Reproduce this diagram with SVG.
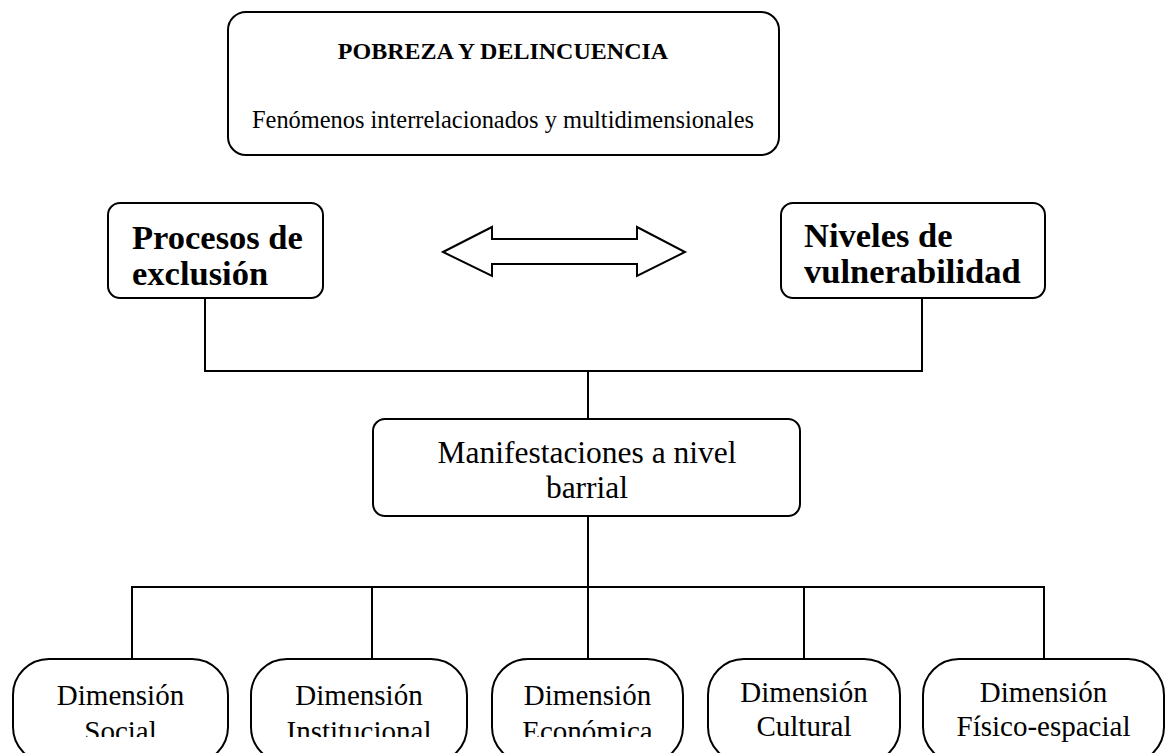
<svg xmlns="http://www.w3.org/2000/svg" width="1166" height="753" viewBox="0 0 1166 753">
<style>
.box{fill:#fff;stroke:#000;stroke-width:2}
.ln{fill:none;stroke:#000;stroke-width:2}
.t{font-family:"Liberation Serif","Times New Roman",serif;fill:#000}
.reg{font-size:29px}
.bold{font-weight:bold}
.bb{font-size:34.5px;font-weight:bold}
</style>
<defs>
<clipPath id="clipLow"><rect x="0" y="600" width="1166" height="137"/></clipPath>
</defs>
<rect width="1166" height="753" fill="#fff"/>
<g id="connectors">
<polyline class="ln" points="205,298 205,371 922,371 922,298"/>
<line class="ln" x1="588" y1="371" x2="588" y2="419"/>
<line class="ln" x1="588" y1="516" x2="588" y2="587"/>
<line class="ln" x1="131" y1="587" x2="1045" y2="587"/>
<line class="ln" x1="132" y1="587" x2="132" y2="659"/>
<line class="ln" x1="372" y1="587" x2="372" y2="659"/>
<line class="ln" x1="588" y1="587" x2="588" y2="659"/>
<line class="ln" x1="804" y1="587" x2="804" y2="659"/>
<line class="ln" x1="1044" y1="587" x2="1044" y2="659"/>
<polygon id="double-arrow" class="box" points="443,252 492,227 492,239 637,239 637,227 685,252 637,276 637,264 492,264 492,276"/>
</g>
<g id="top">
<rect class="box" x="228" y="12" width="551" height="143" rx="18"/>
<text class="t bold" x="503" y="59" font-size="24" text-anchor="middle">POBREZA Y DELINCUENCIA</text>
<text class="t" x="503" y="128" font-size="24.4" text-anchor="middle">Fenómenos interrelacionados y multidimensionales</text>
</g>
<g id="procesos">
<rect class="box" x="108" y="203" width="215" height="95" rx="12"/>
<text class="t bb" x="132" y="249">Procesos de</text>
<text class="t bb" x="132" y="285">exclusión</text>
</g>
<g id="niveles">
<rect class="box" x="781" y="203" width="264" height="95" rx="12"/>
<text class="t bb" x="804" y="247">Niveles de</text>
<text class="t bb" x="804" y="283">vulnerabilidad</text>
</g>
<g id="manifestaciones">
<rect class="box" x="373" y="419" width="427" height="97" rx="12"/>
<text class="t" x="587" y="463" font-size="31.5" text-anchor="middle">Manifestaciones a nivel</text>
<text class="t" x="587" y="498" font-size="31.5" text-anchor="middle">barrial</text>
</g>
<g id="social">
<rect class="box" x="13" y="659" width="215" height="104" rx="36"/>
<g clip-path="url(#clipLow)">
<text class="t reg" x="120.5" y="705" text-anchor="middle">Dimensión</text>
<text class="t reg" x="120.5" y="741" text-anchor="middle">Social</text>
</g>
</g>
<g id="institucional">
<rect class="box" x="251" y="659" width="216" height="104" rx="36"/>
<g clip-path="url(#clipLow)">
<text class="t reg" x="359" y="705" text-anchor="middle">Dimensión</text>
<text class="t reg" x="359" y="741" text-anchor="middle">Institucional</text>
</g>
</g>
<g id="economica">
<rect class="box" x="492" y="659" width="191" height="104" rx="36"/>
<g clip-path="url(#clipLow)">
<text class="t reg" x="587.5" y="705" text-anchor="middle">Dimensión</text>
<text class="t reg" x="587.5" y="741" text-anchor="middle">Económica</text>
</g>
</g>
<g id="cultural">
<rect class="box" x="708" y="659" width="192" height="104" rx="36"/>
<text class="t reg" x="804" y="702" text-anchor="middle">Dimensión</text>
<text class="t reg" x="804" y="736" text-anchor="middle">Cultural</text>
</g>
<g id="fisico">
<rect class="box" x="923" y="659" width="241" height="104" rx="36"/>
<text class="t reg" x="1043.5" y="702" text-anchor="middle">Dimensión</text>
<text class="t reg" x="1043.5" y="736" text-anchor="middle">Físico-espacial</text>
</g>
</svg>
